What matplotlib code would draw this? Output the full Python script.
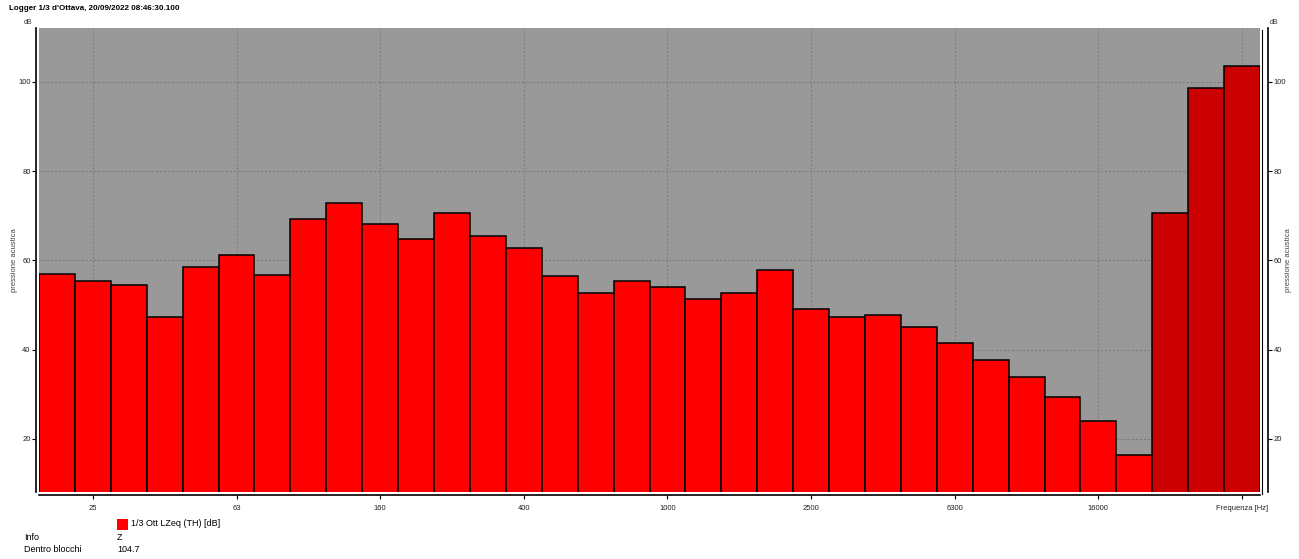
import matplotlib
matplotlib.use("Agg")
import matplotlib.pyplot as plt

plt.rcParams["font.family"] = ["Liberation Sans", "DejaVu Sans"]

# 1/3 octave bands, 20 Hz .. 40 kHz
bands = ["20", "25", "31.5", "40", "50", "63", "80", "100", "125", "160",
         "200", "250", "315", "400", "500", "630", "800", "1000", "1250", "1600",
         "2000", "2500", "3150", "4000", "5000", "6300", "8000", "10000", "12500", "16000",
         "20000", "25000", "31500", "40000"]
lzeq = [57.0, 55.4, 54.5, 47.3, 58.6, 61.3, 56.7, 69.3, 72.8, 68.1,
        64.9, 70.6, 65.5, 62.8, 56.5, 52.7, 55.5, 54.1, 51.4, 52.7,
        57.9, 49.1, 47.3, 47.8, 45.1, 41.6, 37.7, 33.9, 29.4, 24.0,
        16.5, 70.7, 98.6, 103.5]
# bands drawn in dark red (over range)
dark_bands = ["25000", "31500", "40000"]
tick_bands = ["25", "63", "160", "400", "1000", "2500", "6300", "16000", "40000"]
tick_labels = ["25", "63", "160", "400", "1000", "2500", "6300", "16000", "Frequenza [Hz]"]
y_ticks = [20, 40, 60, 80, 100]

title = "Logger 1/3 d'Ottava, 20/09/2022 08:46:30.100"
legend_label = "1/3 Ott LZeq (TH) [dB]"
info = [("Info", "Z"), ("Dentro blocchi", "104.7")]

W, H = 1299, 559
fig = plt.figure(figsize=(W / 100, H / 100), dpi=100)
ax = fig.add_axes([39 / W, 1 - 492 / H, (1260 - 39) / W, (492 - 28) / H])
ax.set_facecolor("#999999")

x = list(range(len(bands)))
colors = ["#cc0000" if b in dark_bands else "#ff0000" for b in bands]
ax.bar(x, lzeq, width=1.0, color=colors, edgecolor="black", linewidth=1.1, zorder=3)

ax.set_xlim(-0.5, len(bands) - 0.5)
ax.set_ylim(8.1, 112.1)

tick_pos = [bands.index(b) for b in tick_bands]
ax.set_xticks(tick_pos)
ax.set_xticklabels(tick_labels)
ax.set_yticks(y_ticks)
ax.tick_params(axis="y", labelsize=5.5, length=3, width=0.8, pad=1, labelcolor="#222222")
ax.tick_params(axis="x", labelsize=5.5, length=3, width=0.8, pad=4, labelcolor="#222222")

ax.grid(True, color="#7a7a7a", linestyle=(0, (2, 2)), linewidth=0.7, zorder=1)
ax.set_axisbelow(True)

for side in ("top", "right"):
    ax.spines[side].set_visible(False)
ax.spines["left"].set_position(("outward", 2))
ax.spines["bottom"].set_position(("outward", 2))
ax.spines["left"].set_linewidth(1.2)
ax.spines["bottom"].set_linewidth(1.2)

# right axis
ax2 = ax.twinx()
ax2.set_ylim(ax.get_ylim())
ax2.set_yticks(y_ticks)
ax2.tick_params(axis="y", labelsize=5.5, length=3, width=0.8, pad=1, labelcolor="#222222")
for side in ("top", "left", "bottom"):
    ax2.spines[side].set_visible(False)
ax2.spines["right"].set_position(("outward", 6))
ax2.spines["right"].set_linewidth(1.2)

# thin frame line right of the plot area
fig.add_artist(plt.Line2D([1262 / W, 1262 / W], [1 - 30 / H, 1 - 494 / H],
                          color="black", linewidth=0.8))

fig.text(14 / W, 1 - 260 / H, "pressione acustica", fontsize=5.5, color="#444444",
         rotation=90, va="center", ha="center")
fig.text(1289 / W, 1 - 260 / H, "pressione acustica", fontsize=5.5, color="#444444",
         rotation=90, va="center", ha="center")

fig.text(9 / W, 1 - 9 / H, title, fontsize=5.8, fontweight="bold", va="center", ha="left")
fig.text(32 / W, 1 - 22 / H, "dB", fontsize=5, va="center", ha="right", color="#333333")
fig.text(1270 / W, 1 - 22 / H, "dB", fontsize=5, va="center", ha="left", color="#333333")

# legend
fig.patches.append(plt.Rectangle((117 / W, 1 - 530 / H), 11 / W, 11 / H,
                                 transform=fig.transFigure, facecolor="#ff0000",
                                 edgecolor="none"))
fig.text(131 / W, 1 - 524 / H, legend_label, fontsize=6.5, va="center", ha="left")
for i, (k, v) in enumerate(info):
    yy = 1 - (537 + 13 * i) / H
    fig.text(24 / W, yy, k, fontsize=6.5, va="center", ha="left")
    fig.text(117 / W, yy, v, fontsize=6.5, va="center", ha="left")

fig.savefig("out.png", dpi=100)
